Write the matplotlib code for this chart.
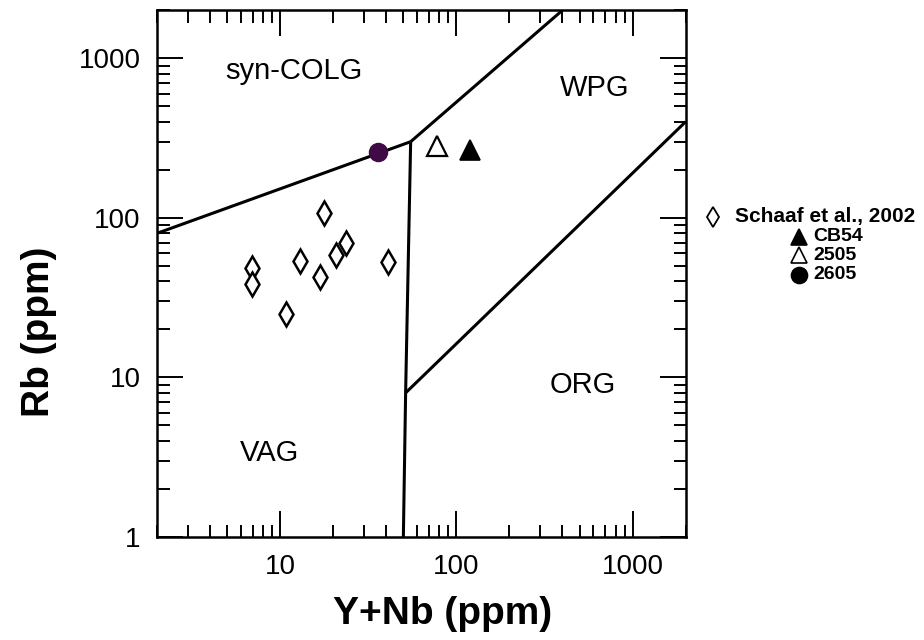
"""Rb vs. Y+Nb Diskriminierungsdiagramm (Pearce et al., 1984)."""

import matplotlib
matplotlib.use("Agg")
import matplotlib.pyplot as plt
from matplotlib.lines import Line2D
from matplotlib.ticker import LogLocator, NullFormatter

plt.rcParams["font.family"] = ["Liberation Sans", "DejaVu Sans"]

# Feldgrenzen (Y+Nb, Rb)
vag_colg_x = [2, 55]
vag_colg_y = [80, 300]
wpg_colg_x = [55, 400]
wpg_colg_y = [300, 2000]
vag_wpg_x = [55, 51.5, 50]
vag_wpg_y = [300, 8, 1]
org_wpg_x = [51.5, 2000]
org_wpg_y = [8, 400]

# Proben
schaaf_x = [17.8, 6.9, 6.9, 12.9, 16.9, 20.8, 23.7, 40.9, 10.8]
schaaf_y = [107, 48.7, 38.7, 53.9, 42.8, 58.7, 69.8, 53.1, 25.1]
cb54_x, cb54_y = [119], [266]
s2505_x, s2505_y = [78], [282]
s2605_x, s2605_y = [36], [258]

fields = ["syn-COLG", "WPG", "ORG", "VAG"]
field_x = [12.0, 610, 520, 8.7]
field_y = [830, 650, 8.9, 3.35]

fig = plt.figure(figsize=(9.24, 6.4), dpi=100)
ax = fig.add_axes([0.170, 0.161, 0.572, 0.823])

lw = 2.2
for xs, ys in [(vag_colg_x, vag_colg_y), (wpg_colg_x, wpg_colg_y),
               (vag_wpg_x, vag_wpg_y), (org_wpg_x, org_wpg_y)]:
    ax.plot(xs, ys, color="black", lw=lw, solid_capstyle="butt")

ax.plot(schaaf_x, schaaf_y, ls="none", marker="d", ms=12.5, mfc="white",
        mec="black", mew=1.8)
ax.plot(cb54_x, cb54_y, ls="none", marker="^", ms=14, mfc="black",
        mec="black", mew=1.2)
ax.plot(s2505_x, s2505_y, ls="none", marker="^", ms=14, mfc="white",
        mec="black", mew=1.6)
ax.plot(s2605_x, s2605_y, ls="none", marker="o", ms=13, mfc="#3f0a46",
        mec="#3f0a46")

for name, fx, fy in zip(fields, field_x, field_y):
    ax.text(fx, fy, name, fontsize=21, ha="center", va="center")

ax.set_xscale("log")
ax.set_yscale("log")
ax.set_xlim(2, 2000)
ax.set_ylim(1, 2000)

ax.xaxis.set_minor_locator(LogLocator(base=10, subs=range(2, 10)))
ax.yaxis.set_minor_locator(LogLocator(base=10, subs=range(2, 10)))
ax.xaxis.set_minor_formatter(NullFormatter())
ax.yaxis.set_minor_formatter(NullFormatter())
ax.set_xticks([10, 100, 1000])
ax.set_xticklabels(["10", "100", "1000"])
ax.set_yticks([1, 10, 100, 1000])
ax.set_yticklabels(["1", "10", "100", "1000"])

ax.tick_params(which="both", direction="in", top=True, right=True,
               width=1.4, labelsize=20, pad=12)
ax.tick_params(which="major", length=19)
ax.tick_params(which="minor", length=9)
for sp in ax.spines.values():
    sp.set_linewidth(1.8)

ax.set_xlabel("Y+Nb (ppm)", fontsize=28, fontweight="bold")
ax.set_ylabel("Rb (ppm)", fontsize=28, fontweight="bold")
ax.xaxis.set_label_coords(0.54, -0.112)
ax.yaxis.set_label_coords(-0.19, 0.39)

# Legende von Hand, zentriert wie im Original
fig.add_artist(Line2D([0.772], [0.661], marker="d", ms=10, mfc="white",
                      mec="black", mew=1.3, transform=fig.transFigure))
fig.text(0.795, 0.661, "Schaaf et al., 2002", fontsize=15,
         fontweight="bold", va="center")
entries = [("^", "black", "CB54", 0.630),
           ("^", "white", "2505", 0.601),
           ("o", "black", "2605", 0.571)]
for m, fc, label, yy in entries:
    fig.add_artist(Line2D([0.865], [yy], marker=m, ms=11.5, mfc=fc,
                          mec="black", mew=1.2, transform=fig.transFigure))
    fig.text(0.880, yy, label, fontsize=14, fontweight="bold",
             va="center")

fig.savefig("out.png", dpi=100)
